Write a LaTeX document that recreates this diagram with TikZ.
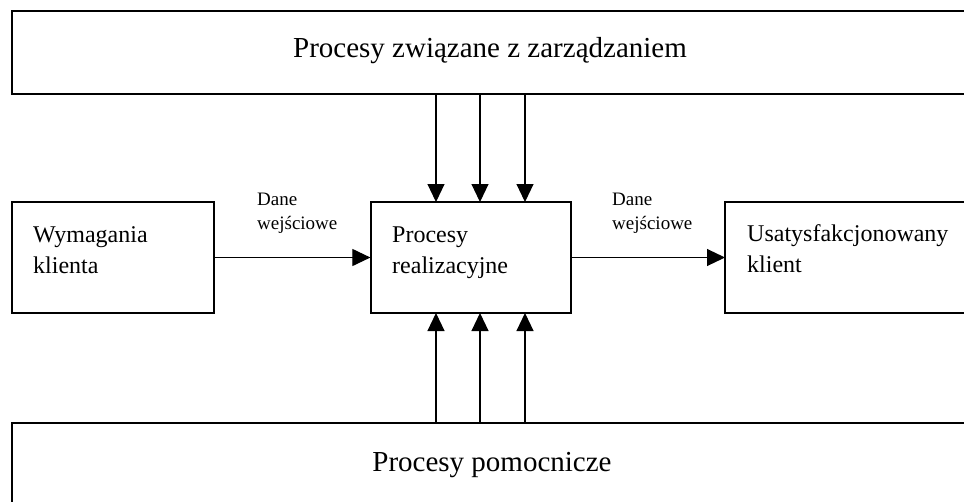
\documentclass[tikz,border=0pt]{standalone}
\usepackage{fontspec}
\setmainfont{Liberation Serif}
\usetikzlibrary{arrows.meta}
\begin{document}
\begin{tikzpicture}[x=1pt,y=-1pt,
  frame/.style={line width=1.2pt},
  bigtext/.style={font=\fontsize{29}{32}\selectfont, inner sep=0pt},
  boxtext/.style={font=\fontsize{24}{31}\selectfont, align=left, inner sep=0pt, anchor=base west},
  lbl/.style={font=\fontsize{19}{24}\selectfont, align=left, inner sep=0pt, anchor=base west},
  blk/.style={draw, line width=1.2pt, rectangle, inner sep=0pt},
  arr/.style={line width=1.1pt, -{Triangle[width=17pt,length=18pt]}}]
\useasboundingbox (0,0) rectangle (964,501);
% top and bottom bands (open on the right / bottom, they run off the picture)
\coordinate (tnw) at (12,11); \coordinate (tne) at (966,11);
\coordinate (tsw) at (12,94); \coordinate (tse) at (966,94);
\draw[frame] (tne) -- (tnw) -- (tsw) -- (tse);
\node[bigtext] (top) at (490,51) {Procesy związane z zarządzaniem};
\coordinate (bnw) at (12,423); \coordinate (bne) at (966,423);
\coordinate (bsw) at (12,503);
\draw[frame] (bne) -- (bnw) -- (bsw);
\node[bigtext] (bottom) at (492,465) {Procesy pomocnicze};
% boxes
\node[blk, minimum width=202pt, minimum height=111pt] (left) at (113,257.5) {};
\node[blk, minimum width=200pt, minimum height=111pt] (mid) at (471,257.5) {};
\coordinate (rnw) at (725,202); \coordinate (rne) at (966,202);
\coordinate (rsw) at (725,313); \coordinate (rse) at (966,313);
\coordinate (rw) at (725,257.5);
\draw[frame] (rne) -- (rnw) -- (rsw) -- (rse);
\node[boxtext] (lt) at (33,273) {Wymagania\\klienta};
\node[boxtext] (mt) at (392,273) {Procesy\\realizacyjne};
\node[boxtext] (rt) at (747,272) {Usatysfakcjonowany\\klient};
% labels
\node[lbl] (l1) at (257,229) {Dane\\wejściowe};
\node[lbl] (l2) at (612,229) {Dane\\wejściowe};
% horizontal arrows
\draw[arr] (left.east) -- (mid.west);
\draw[arr] (mid.east) -- (rw);
% vertical arrows
\foreach \xx/\n in {436/a,480/b,525/c}{
  \coordinate (t\n) at (\xx,94);
  \coordinate (mt\n) at (\xx,202);
  \coordinate (b\n) at (\xx,423);
  \coordinate (mb\n) at (\xx,313);
  \draw[arr] (t\n) -- (mt\n);
  \draw[arr] (b\n) -- (mb\n);
}
\end{tikzpicture}
\end{document}
